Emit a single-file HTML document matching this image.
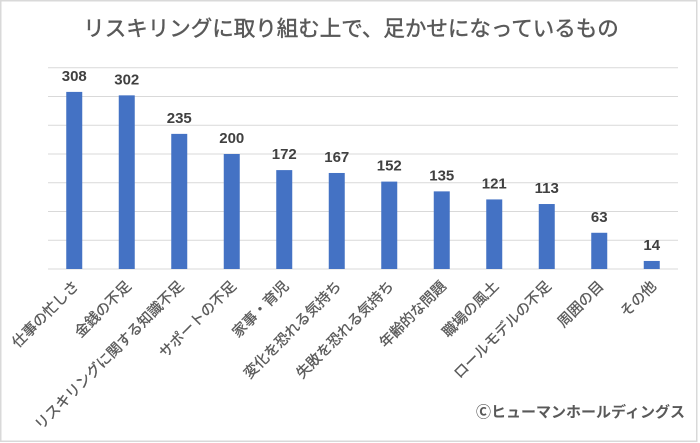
<!DOCTYPE html>
<html>
<head>
<meta charset="utf-8">
<style>
  html, body { margin:0; padding:0; background:#ffffff; }
  svg { display:block; }
  .t { font-family: "Liberation Sans", "Noto Sans CJK JP", sans-serif; }
</style>
</head>
<body>
<svg width="700" height="443" viewBox="0 0 700 443" xmlns="http://www.w3.org/2000/svg">
  <rect x="0" y="0" width="700" height="443" fill="#ffffff"/>
  <rect x="0.75" y="0.75" width="696" height="440.5" fill="#ffffff" stroke="#d9d9d9" stroke-width="1.5"/>

  <!-- Title -->
  <text class="t" x="351" y="36" text-anchor="middle" font-size="21.5" fill="#595959" stroke="#595959" stroke-width="0.45">リスキリングに取り組む上で、足かせになっているもの</text>

  <!-- Gridlines -->
  <g stroke="#d9d9d9" stroke-width="1">
    <line x1="48" y1="67.75" x2="678" y2="67.75"/>
    <line x1="48" y1="96.5" x2="678" y2="96.5"/>
    <line x1="48" y1="125.25" x2="678" y2="125.25"/>
    <line x1="48" y1="154" x2="678" y2="154"/>
    <line x1="48" y1="182.75" x2="678" y2="182.75"/>
    <line x1="48" y1="211.5" x2="678" y2="211.5"/>
    <line x1="48" y1="240.25" x2="678" y2="240.25"/>
    <line x1="48" y1="269" x2="678" y2="269"/>
  </g>

  <!-- Bars -->
  <g fill="#4472c4">
    <rect x="66.25" y="91.9" width="16" height="177.1"/>
    <rect x="118.75" y="95.35" width="16" height="173.65"/>
    <rect x="171.25" y="133.875" width="16" height="135.125"/>
    <rect x="223.75" y="154" width="16" height="115"/>
    <rect x="276.25" y="170.1" width="16" height="98.9"/>
    <rect x="328.75" y="172.975" width="16" height="96.025"/>
    <rect x="381.25" y="181.6" width="16" height="87.4"/>
    <rect x="433.75" y="191.375" width="16" height="77.625"/>
    <rect x="486.25" y="199.425" width="16" height="69.575"/>
    <rect x="538.75" y="204.025" width="16" height="64.975"/>
    <rect x="591.25" y="232.775" width="16" height="36.225"/>
    <rect x="643.75" y="260.95" width="16" height="8.05"/>
  </g>

  <!-- Data labels -->
  <g class="t" font-size="15" font-weight="bold" fill="#404040" text-anchor="middle">
    <text x="74.25" y="80.9">308</text>
    <text x="126.75" y="84.35">302</text>
    <text x="179.25" y="122.9">235</text>
    <text x="231.75" y="143">200</text>
    <text x="284.25" y="159.1">172</text>
    <text x="336.75" y="162">167</text>
    <text x="389.25" y="170.6">152</text>
    <text x="441.75" y="180.4">135</text>
    <text x="494.25" y="188.4">121</text>
    <text x="546.75" y="193">113</text>
    <text x="599.25" y="221.8">63</text>
    <text x="651.75" y="250">14</text>
  </g>

  <!-- Category labels -->
  <g class="t" font-size="14.5" fill="#595959" stroke="#595959" stroke-width="0.3" text-anchor="end">
    <text transform="translate(79.5,287) rotate(-45)">仕事の忙しさ</text>
    <text transform="translate(132,287) rotate(-45)">金銭の不足</text>
    <text transform="translate(184.5,287) rotate(-45)">リスキリングに関する知識不足</text>
    <text transform="translate(237,287) rotate(-45)">サポートの不足</text>
    <text transform="translate(289.5,287) rotate(-45)">家事・育児</text>
    <text transform="translate(342,287) rotate(-45)">変化を恐れる気持ち</text>
    <text transform="translate(394.5,287) rotate(-45)">失敗を恐れる気持ち</text>
    <text transform="translate(447,287) rotate(-45)">年齢的な問題</text>
    <text transform="translate(499.5,287) rotate(-45)">職場の風土</text>
    <text transform="translate(552,287) rotate(-45)">ロールモデルの不足</text>
    <text transform="translate(604.5,287) rotate(-45)">周囲の目</text>
    <text transform="translate(657,287) rotate(-45)">その他</text>
  </g>

  <!-- Copyright -->
  <text class="t" x="685" y="417" text-anchor="end" font-size="15" font-weight="bold" fill="#595959">Ⓒヒューマンホールディングス</text>
</svg>
</body>
</html>
